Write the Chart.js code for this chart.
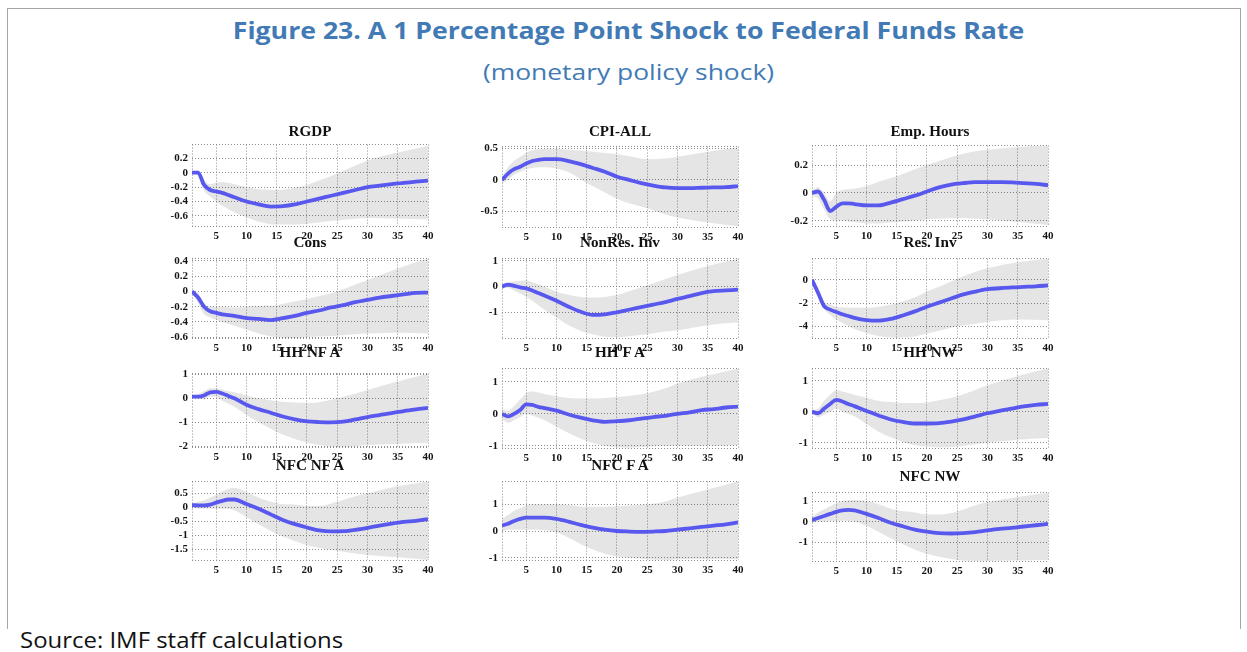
<!DOCTYPE html>
<html><head><meta charset="utf-8">
<script src="https://cdn.jsdelivr.net/npm/chart.js@4.4.1/dist/chart.umd.min.js"></script>
<style>
html,body{margin:0;padding:0;background:#fff;width:1247px;height:652px;overflow:hidden;position:relative;font-family:'Open Sans',sans-serif}
#frame{position:absolute;left:7px;top:8px;width:1232px;height:620px;border:1px solid #a6a6a6;border-bottom:none}
#title{position:absolute;left:0;width:1257px;top:14px;line-height:32px;text-align:center;font-weight:700;font-size:24px;color:#427ab5;white-space:nowrap;transform:scaleX(1.11);transform-origin:628.5px 50%}
#sub{position:absolute;left:0;width:1257px;top:56px;line-height:30px;text-align:center;font-weight:400;font-size:22px;color:#427ab5;white-space:nowrap;transform:scaleX(1.2);transform-origin:628.5px 50%}
#src{position:absolute;left:20px;top:626px;line-height:28px;font-size:21px;color:#111;white-space:nowrap;transform:scaleX(1.14);transform-origin:0 50%}
canvas{position:absolute}
.pt{position:absolute;font:bold 14px 'Liberation Serif','Times New Roman',serif;color:#111;transform:translate(-50%,-50%) scaleX(1.08);white-space:nowrap}
</style></head>
<body>
<div id="frame"></div>
<div id="title">Figure 23. A 1 Percentage Point Shock to Federal Funds Rate</div>
<div id="sub">(monetary policy shock)</div>
<div id="src">Source: IMF staff calculations</div>
<script>
// ---------- DATA ----------
const titles = ["RGDP","CPI-ALL","Emp. Hours","Cons","NonRes. Inv","Res. Inv","HH NF A","HH F A","HH NW","NFC NF A","NFC F A","NFC NW"];
const xTicks = [5,10,15,20,25,30,35,40];
const X  = [1,2,3,4,5,6,7,8,10,12,14,16,18,20,22,24,26,28,30,32,34,36,38,40];
const BX = [1,2,3,4,5,6,8,10,12,15,18,20,22,25,28,30,35,40];

const rgdpMid = [0,0,-0.17,-0.24,-0.26,-0.28,-0.31,-0.34,-0.40,-0.44,-0.47,-0.465,-0.44,-0.40,-0.36,-0.32,-0.28,-0.24,-0.2,-0.18,-0.16,-0.14,-0.125,-0.11];
const rgdpUp  = [0.01,0.03,-0.1,-0.16,-0.14,-0.13,-0.16,-0.2,-0.23,-0.24,-0.21,-0.17,-0.11,-0.01,0.1,0.17,0.28,0.37];
const rgdpLo  = [-0.01,-0.03,-0.25,-0.33,-0.4,-0.46,-0.55,-0.62,-0.68,-0.72,-0.72,-0.71,-0.69,-0.66,-0.64,-0.63,-0.64,-0.65];

const cpiMid = [0,0.1,0.17,0.21,0.26,0.3,0.32,0.33,0.33,0.3,0.25,0.19,0.13,0.05,0,-0.05,-0.09,-0.12,-0.13,-0.13,-0.125,-0.12,-0.115,-0.1];
const cpiUp  = [0.05,0.2,0.3,0.37,0.43,0.47,0.49,0.49,0.48,0.46,0.43,0.41,0.38,0.33,0.34,0.37,0.45,0.52];
const cpiLo  = [-0.05,0,0.08,0.13,0.17,0.19,0.2,0.18,0.12,-0.05,-0.2,-0.3,-0.37,-0.45,-0.55,-0.6,-0.68,-0.74];

const empMid = [0,0.01,-0.05,-0.13,-0.1,-0.075,-0.075,-0.08,-0.09,-0.09,-0.07,-0.045,-0.02,0.01,0.04,0.06,0.07,0.077,0.078,0.077,0.075,0.07,0.065,0.055];
const empUp  = [0.02,0.04,0,-0.06,0,0.02,0.03,0.05,0.08,0.12,0.17,0.2,0.23,0.27,0.3,0.31,0.33,0.34];
const empLo  = [-0.02,-0.04,-0.12,-0.19,-0.2,-0.2,-0.21,-0.22,-0.22,-0.21,-0.2,-0.19,-0.185,-0.18,-0.185,-0.19,-0.21,-0.23];

const consMid = [0,-0.08,-0.2,-0.26,-0.28,-0.3,-0.31,-0.32,-0.35,-0.36,-0.375,-0.35,-0.32,-0.28,-0.25,-0.21,-0.18,-0.14,-0.11,-0.08,-0.06,-0.04,-0.02,-0.015];
const consUp  = [0.02,-0.02,-0.15,-0.2,-0.2,-0.2,-0.21,-0.2,-0.19,-0.18,-0.13,-0.1,-0.06,0,0.09,0.15,0.3,0.43];
const consLo  = [-0.02,-0.15,-0.3,-0.34,-0.37,-0.4,-0.45,-0.5,-0.55,-0.6,-0.61,-0.6,-0.59,-0.58,-0.56,-0.55,-0.54,-0.55];

const nriMid = [0,0.08,0.03,-0.03,-0.07,-0.15,-0.25,-0.35,-0.55,-0.78,-0.98,-1.1,-1.08,-1.0,-0.9,-0.8,-0.7,-0.6,-0.48,-0.37,-0.25,-0.18,-0.15,-0.12];
const nriUp  = [0.05,0.15,0.2,0.23,0.25,0.18,0,-0.2,-0.32,-0.42,-0.4,-0.33,-0.18,0.05,0.3,0.45,0.8,1.08];
const nriLo  = [-0.05,-0.05,-0.15,-0.27,-0.4,-0.55,-0.9,-1.2,-1.5,-1.8,-1.95,-1.97,-1.93,-1.85,-1.75,-1.7,-1.5,-1.4];

const resMid = [0,-1.1,-2.25,-2.55,-2.75,-2.95,-3.1,-3.25,-3.45,-3.5,-3.35,-3.05,-2.7,-2.3,-1.95,-1.6,-1.25,-1.0,-0.8,-0.72,-0.65,-0.6,-0.55,-0.48];
const resUp  = [0.05,-0.8,-1.9,-2.1,-2.3,-2.35,-2.4,-2.4,-2.3,-2.0,-1.5,-1.0,-0.6,0.1,0.7,1.0,1.5,1.8];
const resLo  = [-0.05,-1.3,-2.5,-3.0,-3.4,-3.7,-4.2,-4.55,-4.8,-4.95,-4.85,-4.6,-4.35,-4.0,-3.75,-3.6,-3.4,-3.45];

const hhnfMid = [0.07,0.07,0.12,0.25,0.27,0.2,0.1,0,-0.27,-0.45,-0.6,-0.76,-0.88,-0.96,-0.99,-1.0,-0.97,-0.88,-0.78,-0.7,-0.62,-0.53,-0.46,-0.4];
const hhnfUp  = [0.12,0.15,0.3,0.42,0.42,0.36,0.25,0.12,0,-0.12,-0.18,-0.2,-0.16,0,0.2,0.35,0.7,1.02];
const hhnfLo  = [0.02,0,-0.05,0.08,0.05,-0.1,-0.35,-0.7,-1.0,-1.4,-1.7,-1.85,-1.95,-2.02,-2.0,-1.95,-1.9,-1.85];

const hhfMid = [0,-0.08,0,0.12,0.3,0.28,0.22,0.18,0.1,-0.02,-0.12,-0.2,-0.25,-0.23,-0.2,-0.15,-0.1,-0.06,0,0.05,0.12,0.15,0.2,0.23];
const hhfUp  = [0.15,0.1,0.25,0.45,0.65,0.7,0.62,0.55,0.5,0.48,0.5,0.53,0.57,0.65,0.8,0.95,1.2,1.42];
const hhfLo  = [-0.15,-0.28,-0.2,-0.1,0,-0.05,-0.2,-0.4,-0.6,-0.85,-1.0,-1.05,-1.06,-1.03,-1.0,-1.0,-1.0,-0.98];

const hhnwMid = [0,-0.05,0.1,0.25,0.38,0.33,0.25,0.18,0.02,-0.12,-0.25,-0.33,-0.38,-0.38,-0.37,-0.32,-0.25,-0.15,-0.05,0.03,0.1,0.17,0.22,0.25];
const hhnwUp  = [0.05,0.1,0.35,0.55,0.7,0.65,0.55,0.45,0.35,0.3,0.28,0.3,0.37,0.5,0.7,0.85,1.15,1.39];
const hhnwLo  = [-0.05,-0.18,-0.1,0,0.1,0,-0.15,-0.4,-0.65,-0.9,-1.08,-1.12,-1.15,-1.12,-1.05,-1.0,-0.9,-0.85];

const nfcnfMid = [0.08,0.07,0.07,0.1,0.17,0.23,0.28,0.28,0.12,-0.05,-0.25,-0.45,-0.6,-0.72,-0.82,-0.86,-0.85,-0.8,-0.73,-0.65,-0.58,-0.52,-0.48,-0.42];
const nfcnfUp  = [0.15,0.2,0.25,0.35,0.45,0.57,0.7,0.55,0.35,0.15,0.1,0.05,0.05,0.2,0.4,0.5,0.75,0.92];
const nfcnfLo  = [0,-0.05,-0.05,-0.05,-0.05,-0.05,-0.1,-0.35,-0.6,-0.95,-1.2,-1.35,-1.45,-1.55,-1.65,-1.7,-1.78,-1.88];

const nfcfMid = [0.2,0.27,0.37,0.45,0.5,0.5,0.5,0.5,0.45,0.35,0.23,0.13,0.05,0,-0.02,-0.03,-0.02,0,0.05,0.1,0.15,0.2,0.25,0.32];
const nfcfUp  = [0.45,0.6,0.75,0.85,0.95,1.0,1.0,1.0,0.97,0.9,0.9,0.92,0.95,1.0,1.1,1.25,1.55,1.84];
const nfcfLo  = [0,0.05,0.05,0.05,0.05,0.05,0.03,-0.05,-0.25,-0.6,-0.85,-0.95,-1.0,-1.05,-1.08,-1.05,-1.05,-1.05];

const nfcnwMid = [0.08,0.18,0.28,0.38,0.48,0.55,0.57,0.55,0.38,0.18,-0.05,-0.22,-0.38,-0.48,-0.55,-0.57,-0.55,-0.5,-0.42,-0.35,-0.3,-0.23,-0.17,-0.1];
const nfcnwUp  = [0.25,0.45,0.6,0.75,0.9,1.0,1.05,1.0,0.85,0.55,0.45,0.35,0.35,0.5,0.8,0.95,1.2,1.4];
const nfcnwLo  = [-0.05,0,0,0.03,0.05,0.05,0,-0.2,-0.5,-0.95,-1.35,-1.55,-1.7,-1.85,-1.9,-1.9,-1.88,-1.85];

const mids = [rgdpMid,cpiMid,empMid,consMid,nriMid,resMid,hhnfMid,hhfMid,hhnwMid,nfcnfMid,nfcfMid,nfcnwMid];
const ups  = [rgdpUp,cpiUp,empUp,consUp,nriUp,resUp,hhnfUp,hhfUp,hhnwUp,nfcnfUp,nfcfUp,nfcnwUp];
const los  = [rgdpLo,cpiLo,empLo,consLo,nriLo,resLo,hhnfLo,hhfLo,hhnwLo,nfcnfLo,nfcfLo,nfcnwLo];

// y-axis limits and tick labels per panel
const yMin = [-0.74,-0.75,-0.238,-0.61,-2.0,-4.98,-2.03,-1.07,-1.17,-1.88,-1.08,-1.9];
const yMax = [0.39,0.53,0.34,0.43,1.09,1.82,1.03,1.42,1.39,0.92,1.84,1.41];
const yTicks = [
  [-0.6,-0.4,-0.2,0,0.2],
  [-0.5,0,0.5],
  [-0.2,0,0.2],
  [-0.6,-0.4,-0.2,0,0.2,0.4],
  [-1,0,1],
  [-4,-2,0],
  [-2,-1,0,1],
  [-1,0,1],
  [-1,0,1],
  [-1.5,-1,-0.5,0,0.5],
  [-1,0,1],
  [-1,0,1]
];

// ---------- LAYOUT (plot-area boxes, title y) ----------
const colLR = [[192,428],[502,738],[812,1048]];
const rowTB = [
  [[144,226],[146,227],[145,226]],
  [[258,338],[258,338],[258,338]],
  [[373,447],[368,448],[368,448]],
  [[481,560],[481,560],[492,561]]
];
const titleY = [[132,132,132],[243,243,243],[353,353,353],[466,466,477]];

const YW = 40, PT = 10, PR = 10, XH = 20;
const gridCol = '#8c8c8c';
const tickFont = {family:"'Liberation Serif','Times New Roman',serif", weight:'bold', size:11};

for (let p = 0; p < 12; p++) {
  const r = Math.floor(p/3), c = p%3;
  const [L,R] = colLR[c];
  const [T,B] = rowTB[r][c];
  const cv = document.createElement('canvas');
  cv.width = (R-L) + YW + PR;
  cv.height = (B-T) + PT + XH;
  cv.style.left = (L-YW)+'px';
  cv.style.top = (T-PT)+'px';
  document.body.appendChild(cv);

  const t = document.createElement('div');
  t.className = 'pt';
  t.textContent = titles[p];
  t.style.left = ((L+R)/2)+'px';
  t.style.top = titleY[r][c]+'px';
  document.body.appendChild(t);

  const labs = yTicks[p];
  const mn = yMin[p], mx = yMax[p];
  new Chart(cv, {
    type:'line',
    data:{datasets:[
      {data: X.map((x,i)=>({x:x,y:mids[p][i]})), borderColor:'#5858ee', borderWidth:3.8, pointRadius:0, fill:false, cubicInterpolationMode:'monotone'},
      {data: BX.map((x,i)=>({x:x,y:ups[p][i]})), borderColor:'rgba(0,0,0,0)', borderWidth:0, pointRadius:0, fill:'+1', backgroundColor:'rgba(0,0,0,0.1)', cubicInterpolationMode:'monotone'},
      {data: BX.map((x,i)=>({x:x,y:los[p][i]})), borderColor:'rgba(0,0,0,0)', borderWidth:0, pointRadius:0, fill:false, cubicInterpolationMode:'monotone'}
    ]},
    options:{
      responsive:false, animation:false, devicePixelRatio:1,
      layout:{padding:{left:0,top:PT,right:PR,bottom:0}},
      plugins:{legend:{display:false}, tooltip:{enabled:false}, title:{display:false}},
      events:[],
      scales:{
        x:{type:'linear', min:1, max:40,
           afterBuildTicks:s=>{s.ticks=[1].concat(xTicks).map(v=>({value:v}));},
           afterFit:s=>{s.height=XH;},
           ticks:{autoSkip:false, maxRotation:0, padding:4, font:tickFont, color:'#151515',
                  callback:v=> v===1 ? '' : String(v)},
           grid:{color:gridCol, lineWidth:1, drawTicks:false},
           border:{display:false, dash:[1,2]}
        },
        y:{type:'linear', min:mn, max:mx,
           afterBuildTicks:s=>{s.ticks=[mn].concat(labs,[mx]).map(v=>({value:v}));},
           afterFit:s=>{s.width=YW;},
           ticks:{autoSkip:false, padding:4, font:tickFont, color:'#151515',
                  callback:v=> labs.includes(v) ? String(v) : ''},
           grid:{color:gridCol, lineWidth:1, drawTicks:false},
           border:{display:false, dash:[1,2]}
        }
      }
    }
  });
}
</script>
</body></html>
